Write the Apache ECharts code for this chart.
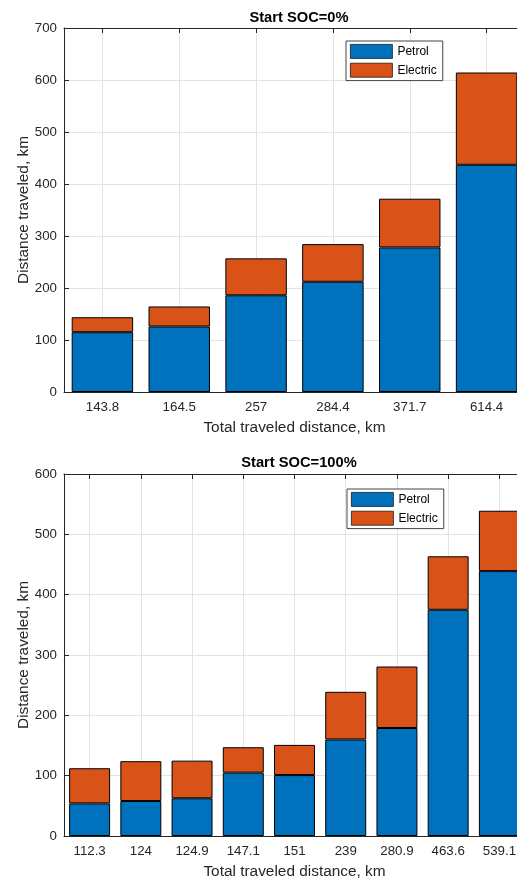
<!DOCTYPE html>
<html>
<head>
<meta charset="utf-8">
<script src="https://cdn.jsdelivr.net/npm/echarts@6/dist/echarts.min.js"></script>
<style>
  html, body { margin: 0; padding: 0; background: #fff; overflow: hidden; }
  #chart { width: 517px; height: 878px; }
</style>
</head>
<body>
<div id="chart"></div>
<script>
// Start SOC = 0%
const soc0Categories = ['143.8', '164.5', '257', '284.4', '371.7', '614.4'];
const soc0Petrol = [115, 126, 186, 212, 278, 437];
const soc0Electric = [28.8, 38.5, 71, 72.4, 93.7, 177.4];

// Start SOC = 100%
const soc100Categories = ['112.3', '124', '124.9', '147.1', '151', '239', '280.9', '463.6', '539.1'];
const soc100Petrol = [54, 58, 62.5, 105, 101, 160, 179, 375, 439];
const soc100Electric = [58.3, 66, 62.4, 42.1, 50, 79, 101.9, 88.6, 100.1];

const titles = ['Start SOC=0%', 'Start SOC=100%'];
const seriesNames = ['Petrol', 'Electric'];
const xName = 'Total traveled distance, km';
const yName = 'Distance traveled, km';

const FONT = '"Liberation Sans", Arial, sans-serif';
const AX = '#262626';
const GRIDC = '#e3e3e3';
const BLUE = '#0072BD';
const ORANGE = '#D95319';

// plot areas run a little past the right edge of the page
const grids = [
  { left: 64, width: 461, top: 28, height: 364, outerBoundsMode: 'none' },
  { left: 64, width: 461, top: 474, height: 362, outerBoundsMode: 'none' }
];

function bottomX(gi, cats) {
  return {
    type: 'category', gridIndex: gi, data: cats, position: 'bottom',
    name: xName, nameLocation: 'middle', nameGap: 28, nameMoveOverlap: false,
    nameTextStyle: { fontFamily: FONT, fontSize: 15.4, color: AX },
    axisLine: { show: true, lineStyle: { color: AX, width: 1 } },
    axisTick: { show: true, inside: true, length: 5, alignWithLabel: true, lineStyle: { color: AX } },
    axisLabel: { fontFamily: FONT, fontSize: 13.3, color: AX, margin: 9 },
    splitLine: { show: true, alignWithLabel: true, lineStyle: { color: GRIDC, width: 1 } }
  };
}
function topX(gi, cats) {
  return {
    type: 'category', gridIndex: gi, data: cats, position: 'top',
    axisLine: { show: true, lineStyle: { color: AX, width: 1 } },
    axisTick: { show: true, inside: true, length: 5, alignWithLabel: true, lineStyle: { color: AX } },
    axisLabel: { show: false },
    splitLine: { show: false }
  };
}
function leftY(gi, max) {
  return {
    type: 'value', gridIndex: gi, min: 0, max: max, interval: 100,
    name: yName, nameLocation: 'middle', nameGap: 33, nameMoveOverlap: false,
    nameTextStyle: { fontFamily: FONT, fontSize: 15.4, color: AX },
    axisLine: { show: true, lineStyle: { color: AX, width: 1 } },
    axisTick: { show: true, inside: true, length: 5, lineStyle: { color: AX } },
    axisLabel: { fontFamily: FONT, fontSize: 13.3, color: AX, margin: 7 },
    splitLine: { show: true, lineStyle: { color: GRIDC, width: 1 } }
  };
}
function bars(gi, xi, values, name, color, stack) {
  return {
    type: 'bar', name: name, xAxisIndex: xi, yAxisIndex: gi, stack: stack,
    data: values, barWidth: '80%',
    itemStyle: { color: color, borderColor: '#000', borderWidth: 1 },
    emphasis: { disabled: true },
    silent: true
  };
}
function legend(left, top) {
  return {
    data: seriesNames, orient: 'vertical', left: left, top: top,
    icon: 'rect', itemWidth: 42, itemHeight: 14, itemGap: 4,
    padding: [3, 6, 3, 4],
    itemStyle: { borderColor: '#1a1a1a', borderWidth: 0.8 },
    backgroundColor: '#fff', borderColor: '#444', borderWidth: 1,
    textStyle: { fontFamily: FONT, fontSize: 12, color: '#000' },
    selectedMode: false
  };
}

const chart = echarts.init(document.getElementById('chart'), null, { renderer: 'canvas' });
chart.setOption({
  animation: false,
  backgroundColor: '#fff',
  title: [
    { text: titles[0], left: 294, textAlign: 'center', top: 5,
      textStyle: { fontFamily: FONT, fontSize: 14.7, fontWeight: 'bold', color: '#000' } },
    { text: titles[1], left: 294, textAlign: 'center', top: 450,
      textStyle: { fontFamily: FONT, fontSize: 14.7, fontWeight: 'bold', color: '#000' } }
  ],
  legend: [legend(346, 41), legend(347, 489)],
  grid: grids,
  xAxis: [
    bottomX(0, soc0Categories), bottomX(1, soc100Categories),
    topX(0, soc0Categories), topX(1, soc100Categories)
  ],
  yAxis: [leftY(0, 700), leftY(1, 600)],
  series: [
    bars(0, 0, soc0Petrol, seriesNames[0], BLUE, 's0'),
    bars(0, 0, soc0Electric, seriesNames[1], ORANGE, 's0'),
    bars(1, 1, soc100Petrol, seriesNames[0], BLUE, 's1'),
    bars(1, 1, soc100Electric, seriesNames[1], ORANGE, 's1')
  ]
});
</script>
</body>
</html>
